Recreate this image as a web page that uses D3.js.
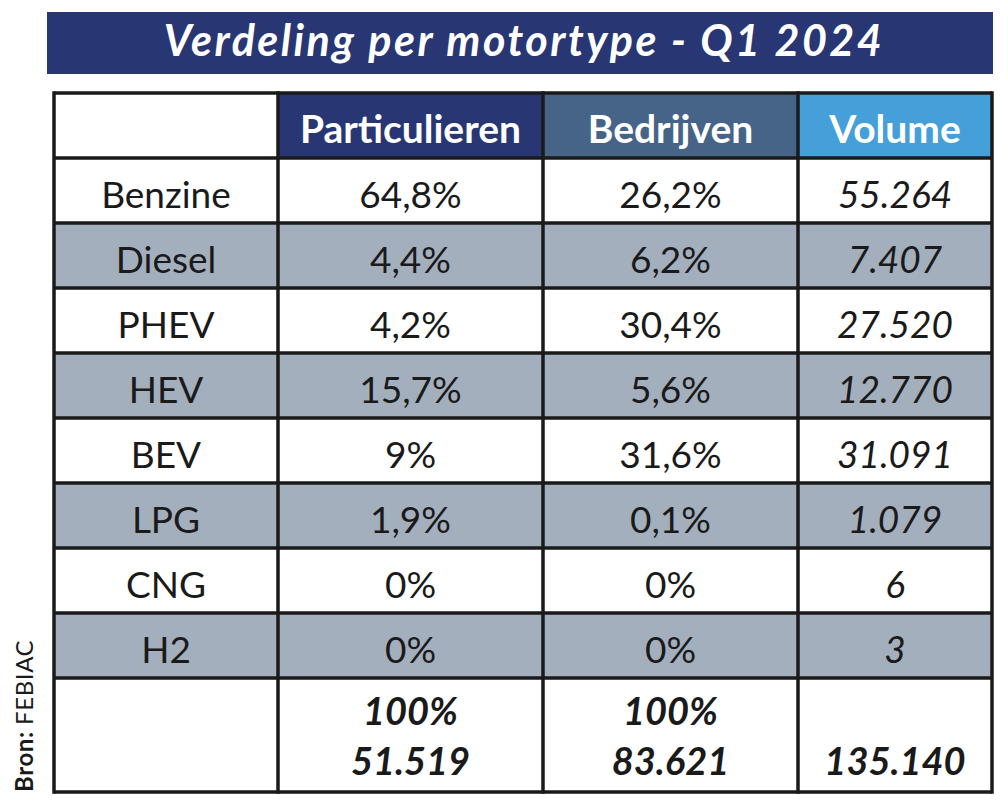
<!DOCTYPE html>
<html><head><meta charset="utf-8">
<script src="https://cdn.jsdelivr.net/npm/d3@7"></script>
<style>body{margin:0;background:#fff}svg{display:block}</style>
</head><body>
<script>
const title = "Verdeling per motortype - Q1 2024";
const source = ["Bron: ", "FEBIAC"];
const headers = ["", "Particulieren", "Bedrijven", "Volume"];
const categories = ["Benzine","Diesel","PHEV","HEV","BEV","LPG","CNG","H2"];
const particulieren = [64.8, 4.4, 4.2, 15.7, 9, 1.9, 0, 0];
const bedrijven = [26.2, 6.2, 30.4, 5.6, 31.6, 0.1, 0, 0];
const volume = [55264, 7407, 27520, 12770, 31091, 1079, 6, 3];
const totalShare = [100, 100];
const totals = [51519, 83621, 135140];

const W = 1008, H = 808;
const font = "Lato, 'Open Sans', sans-serif";
const nl = d3.formatLocale({decimal: ",", thousands: ".", grouping: [3], currency: ["€", ""]});
const pct = v => nl.format(".1~f")(v) + "%";
const num = nl.format(",d");

const svg = d3.select("body").append("svg").attr("width", W).attr("height", H);

// title bar
svg.append("rect").attr("x", 47).attr("y", 12).attr("width", 946).attr("height", 62).attr("fill", "#283673");
svg.append("text").attr("x", 524).attr("y", 56).attr("text-anchor", "middle")
  .attr("fill", "#fff").attr("font-family", font).attr("font-weight", 700).attr("font-style", "italic")
  .attr("font-size", 43).attr("letter-spacing", 2.5).text(title);

// columns
const colEdges = [54, 278, 543, 798, 992];
const rowTop = 93, rowH = 65, totalH = 114;
const nRows = categories.length + 1; // header + data
const y = d3.scaleBand().domain(d3.range(nRows)).range([rowTop, rowTop + rowH * nRows]);
const totalTop = rowTop + rowH * nRows, bottom = totalTop + totalH;
const cx = i => (colEdges[i] + colEdges[i + 1]) / 2;

const headFill = [null, "#283673", "#456487", "#45a0d9"];
const g = svg.append("g");

// header cells
headers.forEach((h, i) => {
  if (headFill[i]) g.append("rect").attr("x", colEdges[i]).attr("y", y(0)).attr("width", colEdges[i+1]-colEdges[i]).attr("height", y.bandwidth()).attr("fill", headFill[i]);
  if (h) g.append("text").attr("x", cx(i)).attr("y", y(0) + 50).attr("text-anchor", "middle")
    .attr("fill", "#fff").attr("font-family", font).attr("font-weight", 700).attr("font-size", 39).text(h);
});

// data rows
categories.forEach((c, r) => {
  const yy = y(r + 1);
  g.append("rect").attr("x", colEdges[0]).attr("y", yy).attr("width", colEdges[4]-colEdges[0]).attr("height", y.bandwidth())
    .attr("fill", r % 2 ? "#a4afbe" : "#fff");
  const vals = [c, pct(particulieren[r]), pct(bedrijven[r]), num(volume[r])];
  vals.forEach((v, i) => {
    g.append("text").attr("x", cx(i)).attr("y", yy + 50).attr("text-anchor", "middle")
      .attr("fill", "#1a1a1a").attr("font-family", font).attr("font-size", 37)
      .attr("font-style", i === 3 ? "italic" : "normal").text(v);
  });
});

// totals row
const tStyle = s => s.attr("text-anchor", "middle").attr("fill", "#1a1a1a").attr("font-family", font)
  .attr("font-weight", 700).attr("font-style", "italic").attr("font-size", 38);
[0, 1].forEach(i => {
  g.append("text").attr("x", cx(i+1)).attr("y", totalTop + 47).call(tStyle).text(pct(totalShare[i]));
  g.append("text").attr("x", cx(i+1)).attr("y", totalTop + 97).call(tStyle).text(num(totals[i]));
});
g.append("text").attr("x", cx(3)).attr("y", totalTop + 97).call(tStyle).text(num(totals[2]));

// grid lines
const lw = 3.5, stroke = "#1a1a1a";
const hLines = d3.range(nRows + 1).map(i => rowTop + rowH * i).concat([bottom]);
hLines.forEach(yv => g.append("line").attr("x1", colEdges[0]).attr("x2", colEdges[4]).attr("y1", yv).attr("y2", yv)
  .attr("stroke", stroke).attr("stroke-width", lw));
colEdges.forEach(xv => g.append("line").attr("x1", xv).attr("x2", xv).attr("y1", rowTop - lw/2).attr("y2", bottom + lw/2)
  .attr("stroke", stroke).attr("stroke-width", lw));

// source
const src = svg.append("text").attr("transform", "translate(33,792) rotate(-90)")
  .attr("font-family", font).attr("font-size", 24).attr("letter-spacing", 0.6).attr("fill", "#1a1a1a");
src.append("tspan").attr("font-weight", 700).text(source[0]);
src.append("tspan").text(source[1]);
</script>
</body></html>
